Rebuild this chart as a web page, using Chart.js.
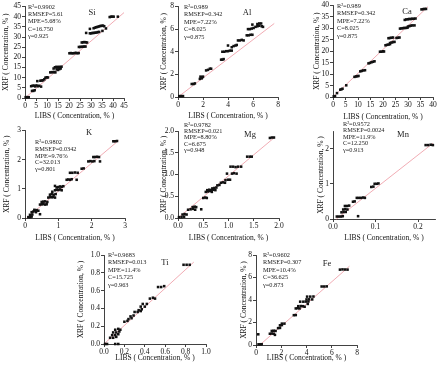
<!DOCTYPE html>
<html>
<head>
<meta charset="utf-8">
<script src="https://cdn.jsdelivr.net/npm/chart.js@4.4.1/dist/chart.umd.min.js"></script>
<style>
  html, body { margin: 0; padding: 0; background: #fff; }
  #wrap { position: relative; width: 442px; height: 369px; overflow: hidden; }
  .panel { position: absolute; }
</style>
</head>
<body>
<div id="wrap"></div>
<script>
// tick values per subplot
const siTicks = [0, 5, 10, 15, 20, 25, 30, 35, 40, 45];
const alTicks = [0, 2, 4, 6, 8];
const caTicks = [0, 5, 10, 15, 20, 25, 30, 35, 40];
const kTicks = [0, 1, 2, 3];
const mgTicks = [0, 0.5, 1.0, 1.5, 2.0];
const mnTicksX = [0, 0.1, 0.2];
const mnTicksY = [0, 1, 2];
const tiTicks = [0, 0.2, 0.4, 0.6, 0.8, 1.0];
const feTicks = [0, 2, 4, 6, 8];

// [LIBS, XRF] pairs
const siPoints = [[0.3,0.4],[1,0.4],[1.7,0.4],
  [3.2,3.5],[3.8,3.5],[4.4,3.8],
  [2.8,5.8],[3.4,6],[4,6.1],[4.6,5.7],[5.2,6.2],[5.8,5.8],[6.4,6],[7.3,5.6],[5.6,8.3],
  [7,8.5],[7.6,8.6],[8.2,8.7],[8.8,9.2],[9.3,10],[9.9,10.2],[10.4,10.1],
  [11.5,12.6],[12.1,12.7],[12.7,12.7],[13.3,12.8],[13.8,12.6],
  [13,14.5],[13.6,15.1],[14.2,15.3],[14.8,15.2],[15.4,15.3],[16,15.2],[16.6,15.4],[14.4,14.1],[15,13.8],[15.6,14.2],[16.2,14.5],
  [20.2,22],[20.8,22.1],[21.4,22],[22,22],[22.6,22.1],[23.2,22.2],[23.8,22],[24.4,22.1],
  [24.5,25.1],[25.1,25.1],[25.7,25.2],[26.3,25.2],[26.9,25.3],[27.5,25.3],
  [25.8,27.3],[26.4,27.4],[27,27.5],[27.6,27.4],[28.2,27.3],
  [27.8,32],
  [29.5,31.8],[30.1,31.8],[30.7,32],[31.3,32],[31.9,32.1],[32.5,32.2],[33.1,32.4],[33.7,32.5],
  [29.5,34],[31.2,34.3],[31.8,34.6],[32.4,34.8],[33,35],[33.6,35.2],[34.2,35.4],[34.8,35.5],[35.4,35.6],[36,35.3],
  [35.2,33],[36.8,34.2],
  [38.5,39.8],[39.1,40],[39.7,40],[40.3,40],[42.2,40]];
const alPoints = [[0.1,0.08],[0.25,0.08],[0.4,0.08],
  [1.1,1.15],[1.25,1.15],[1.35,1.2],
  [1.75,1.6],[1.85,1.7],[1.95,1.75],[1.8,1.8],[1.9,1.65],[2.0,1.8],
  [2.25,2.35],[2.4,2.4],[2.55,2.5],[2.65,2.5],
  [3.45,3.3],[3.55,3.3],[3.65,3.35],
  [3.55,4.0],[3.7,4.0],[3.85,4.05],[4.0,4.05],[4.15,4.1],[4.3,4.1],
  [4.0,4.55],[4.3,4.4],[4.45,4.5],[4.6,4.55],[4.7,4.6],
  [4.8,5.0],[4.95,5.0],[5.1,5.05],[5.25,5.0],
  [5.5,5.45],[5.65,5.45],[5.8,5.5],[5.95,5.5],
  [5.6,6.0],[5.75,6.0],[5.9,6.05],[6.05,6.1],
  [6.2,6.2],[6.35,6.25],[6.5,6.3],[6.7,6.25],[6.8,6.2],
  [5.95,6.4],[6.35,6.45],[6.5,6.5],[6.65,6.5]];
const caPoints = [[0.3,0.3],[0.8,0.4],
  [1.6,1.7],[2.9,3.2],[3.4,3.4],[3.8,3.6],
  [5.3,5.1],
  [8.6,8.8],[9.2,9],[9.7,9.1],[10.2,9.2],
  [10.9,11.2],[11.5,11.4],[12.1,11.6],[12.8,11.7],
  [14.2,14.7],[14.8,14.9],[15.4,15.2],[16,15.4],[16.6,15.6],
  [18.8,19.8],[19.4,19.8],[20,20],[20.4,19.9],
  [21,22.6],[21.6,22.8],[22.2,22.9],[22.8,23.1],
  [22.8,23.6],[23.4,23.8],[24,24],[24.6,24.1],
  [22.2,25.7],[22.8,25.8],[23.4,25.9],[24,26],
  [25.4,25.8],[26,25.9],[26.6,26],
  [26.8,29.9],[27.4,30],[28,30.1],[28.6,30.2],[29.2,30.2],[29.8,30.3],
  [30,30.8],[30.6,31],[31.2,31.2],[31.8,31.3],[32.6,31.3],
  [28.7,33.7],[29.3,33.9],[29.9,34],[30.5,34.1],[31.1,34.1],[31.7,34.2],[32.3,34.2],[33,34.3],
  [35.4,38.3],[36,38.4],[36.6,38.5],[37.2,38.5]];
const kPoints = [[0.1,0.03],[0.16,0.03],[0.2,0.05],
  [0.15,0.11],[0.22,0.12],
  [0.2,0.2],[0.25,0.22],[0.3,0.26],[0.35,0.27],[0.4,0.25],[0.28,0.28],[0.33,0.2],
  [0.45,0.13],
  [0.45,0.46],[0.5,0.47],[0.55,0.48],[0.6,0.46],[0.65,0.47],
  [0.5,0.55],[0.55,0.56],[0.6,0.57],[0.67,0.55],
  [0.7,0.7],[0.75,0.72],[0.8,0.71],[0.85,0.72],[0.9,0.7],
  [0.75,0.8],[0.8,0.82],[0.86,0.8],[0.92,0.82],
  [0.82,0.9],
  [0.9,0.95],[0.95,0.97],[1.0,0.96],[1.05,0.98],[1.1,0.95],
  [1.0,1.06],[1.05,1.08],[1.1,1.07],[1.15,1.09],[0.9,1.1],[0.95,1.05],
  [1.25,1.31],[1.3,1.32],[1.35,1.31],[1.4,1.33],
  [1.35,1.55],[1.42,1.55],[1.5,1.56],[1.58,1.55],
  [1.55,1.31],
  [1.7,1.69],[1.76,1.7],
  [1.9,1.94],[1.96,1.95],[2.02,1.94],[2.08,1.95],
  [2.05,2.09],[2.1,2.09],[2.16,2.1],[2.22,2.09],
  [2.25,1.94],
  [2.65,2.63],[2.7,2.63],[2.76,2.64]];
const mgPoints = [[0.02,0.02],[0.07,0.02],[0.12,0.03],
  [0.09,0.08],[0.13,0.09],[0.17,0.08],
  [0.2,0.19],[0.25,0.2],[0.3,0.21],[0.34,0.19],
  [0.29,0.25],[0.33,0.26],[0.36,0.25],
  [0.46,0.2],
  [0.5,0.46],[0.54,0.47],[0.57,0.46],
  [0.55,0.6],[0.59,0.61],[0.63,0.62],[0.67,0.6],
  [0.58,0.64],[0.62,0.65],[0.66,0.64],[0.7,0.65],[0.74,0.64],
  [0.68,0.68],[0.72,0.69],[0.76,0.7],
  [0.78,0.75],[0.82,0.76],
  [0.85,0.81],[0.89,0.82],[0.93,0.81],
  [0.94,0.87],[0.99,0.88],
  [0.97,1.02],
  [1.03,0.88],
  [1.07,1.02],[1.11,1.03],[1.16,1.02],
  [1.04,1.18],[1.09,1.18],
  [1.14,1.17],[1.19,1.18],[1.25,1.18],
  [1.37,1.41],[1.42,1.41],[1.46,1.41],
  [1.82,1.84],[1.86,1.85],[1.9,1.85]];
const mnPoints = [[0.009,0.07],[0.014,0.07],[0.019,0.07],[0.023,0.08],
  [0.02,0.19],[0.025,0.2],[0.03,0.2],
  [0.024,0.27],[0.029,0.28],[0.034,0.27],
  [0.028,0.37],[0.033,0.37],[0.038,0.38],
  [0.047,0.49],[0.051,0.5],
  [0.056,0.6],[0.061,0.6],[0.066,0.6],[0.071,0.61],[0.075,0.6],
  [0.059,0.08],
  [0.09,0.91],[0.095,0.92],
  [0.098,1.0],[0.103,1.0],[0.107,1.01],
  [0.218,2.1],[0.224,2.1],[0.23,2.11],[0.235,2.1]];
const tiPoints = [[0.01,0],[0.03,0],
  [0.11,0],[0.14,0],
  [0.06,0.07],[0.09,0.07],[0.12,0.08],
  [0.08,0.1],[0.11,0.1],[0.14,0.11],
  [0.09,0.13],[0.12,0.13],[0.15,0.14],
  [0.11,0.16],[0.14,0.17],[0.16,0.16],
  [0.2,0.25],[0.23,0.26],
  [0.24,0.28],[0.27,0.29],
  [0.26,0.31],[0.29,0.32],
  [0.3,0.36],[0.33,0.36],[0.36,0.37],
  [0.34,0.38],[0.37,0.39],
  [0.36,0.42],[0.4,0.42],
  [0.38,0.45],[0.42,0.45],
  [0.45,0.51],[0.48,0.52],[0.5,0.51],
  [0.53,0.64],[0.56,0.64],[0.59,0.65],
  [0.78,0.89],[0.81,0.89],[0.84,0.89]];
const fePoints = [[0.18,0.95],
  [0.2,0.06],[0.35,0.06],[0.45,0.07],
  [1.1,1.0],[1.25,1.02],[1.4,1.0],
  [1.25,1.25],[1.4,1.27],[1.55,1.25],
  [1.5,0.9],
  [1.75,1.5],[1.9,1.52],
  [1.9,1.75],[2.05,1.77],
  [2.05,1.9],[2.25,1.9],
  [3.0,2.65],[3.15,2.66],
  [3.15,3.25],[3.3,3.27],[3.45,3.25],
  [3.35,3.45],[3.55,3.46],[3.7,3.45],
  [3.5,3.85],
  [3.75,3.85],[3.95,3.86],[4.15,3.87],
  [4.0,4.05],[4.2,4.06],[4.45,4.05],
  [4.05,4.3],[4.3,4.3],[4.55,4.31],
  [3.85,3.4],[4.1,3.65],
  [5.2,5.2],[5.4,5.2],[5.6,5.21],
  [6.65,6.7],[6.85,6.72],[7.05,6.71],[7.25,6.7]];

// regression line end points
const siFit = [[0, 0], [45, 42]];
const alFit = [[0, 0], [7.7, 6.5]];
const caFit = [[0, 0], [38, 39.5]];
const kFit = [[0.05, 0], [2.8, 2.65]];
const mgFit = [[0, 0], [1.92, 1.86]];
const mnFit = [[0.008, 0], [0.235, 2.15]];
const tiFit = [[0, 0], [0.88, 0.92]];
const feFit = [[0.3, 0], [7.4, 7.0]];

// statistics text
const siStats = ['R\u00b2=0.9902', 'RMSEP=5.61', 'MPE=5.68%', 'C=16.750', '\u03b3=0.925'];
const alStats = ['R\u00b2=0.989', 'RMSEP=0.342', 'MPE=7.22%', 'C=8.025', '\u03b3=0.875'];
const caStats = ['R\u00b2=0.989', 'RMSEP=0.342', 'MPE=7.22%', 'C=8.025', '\u03b3=0.875'];
const kStats = ['R\u00b2=0.9802', 'RMSEP=0.0342', 'MPE=9.76%', 'C=32.013', '\u03b3=0.801'];
const mgStats = ['R\u00b2=0.9782', 'RMSEP=0.021', 'MPE=8.80%', 'C=6.675', '\u03b3=0.948'];
const mnStats = ['R\u00b2=0.9572', 'RMSEP=0.0024', 'MPE=11.9%', 'C=12.250', '\u03b3=0.913'];
const tiStats = ['R\u00b2=0.9683', 'RMSEP=0.013', 'MPE=11.4%', 'C=15.725', '\u03b3=0.963'];
const feStats = ['R\u00b2=0.9602', 'RMSEP=0.307', 'MPE=10.4%', 'C=36.625', '\u03b3=0.873'];

const xTitle = 'LIBS ( Concentration, % )';
const yTitle = 'XRF ( Concentration, % )';

// layout: box = [left, right, top, bottom] of the plot area in page pixels
const panels = [
  { name: 'Si', pts: siPoints, fit: siFit, stats: siStats, xt: siTicks, yt: siTicks, xmax: 45, ymax: 45, xdec: 0, ydec: 0,
    box: [25, 124, 6, 98], yTitleX: 7, xTitleY: 116, txt: [28, 6.7, 7.3], lab: [92, 12] },
  { name: 'Al', pts: alPoints, fit: alFit, stats: alStats, xt: alTicks, yt: alTicks, xmax: 8, ymax: 8, xdec: 0, ydec: 0,
    box: [178, 278, 6, 97], yTitleX: 165, xTitleY: 116, txt: [184, 6.7, 7.5], lab: [247, 12] },
  { name: 'Ca', pts: caPoints, fit: caFit, stats: caStats, xt: caTicks, yt: caTicks, xmax: 40, ymax: 40, xdec: 0, ydec: 0,
    box: [333, 433, 5, 97], yTitleX: 318, xTitleY: 117, txt: [337, 6, 7.5], lab: [407, 12] },
  { name: 'K', pts: kPoints, fit: kFit, stats: kStats, xt: kTicks, yt: kTicks, xmax: 3, ymax: 3, xdec: 0, ydec: 0,
    box: [25, 125, 130, 218], yTitleX: 8, xTitleY: 238, txt: [35, 142.3, 6.8], lab: [89, 133] },
  { name: 'Mg', pts: mgPoints, fit: mgFit, stats: mgStats, xt: mgTicks, yt: mgTicks, xmax: 2, ymax: 2, xdec: 1, ydec: 1,
    box: [178, 279, 131, 218], yTitleX: 165, xTitleY: 238, txt: [184, 125, 6.4], lab: [250, 135] },
  { name: 'Mn', pts: mnPoints, fit: mnFit, stats: mnStats, xt: mnTicksX, yt: mnTicksY, xmax: 0.24, ymax: 2.5, xdec: 1, ydec: 0,
    box: [333, 435, 131, 219], yTitleX: 322, xTitleY: 238, txt: [343, 124, 6.5], lab: [403, 135] },
  { name: 'Ti', pts: tiPoints, fit: tiFit, stats: tiStats, xt: tiTicks, yt: tiTicks, xmax: 1, ymax: 1, xdec: 1, ydec: 1,
    box: [104, 206, 255, 344], yTitleX: 82, xTitleY: 358, txt: [108, 255, 7.6], lab: [165, 263] },
  { name: 'Fe', pts: fePoints, fit: feFit, stats: feStats, xt: feTicks, yt: feTicks, xmax: 8, ymax: 8, xdec: 0, ydec: 0,
    box: [256, 357, 255, 345], yTitleX: 245, xTitleY: 358, txt: [263, 255, 7.6], lab: [327, 264] }
];

const serif = 'Liberation Serif';
const wrap = document.getElementById('wrap');

function axis(ticks, max, dec, title, fit) {
  return {
    type: 'linear',
    min: 0,
    max: max,
    afterBuildTicks: a => { a.ticks = ticks.map(v => ({ value: v })); },
    afterFit: fit,
    ticks: {
      autoSkip: false, maxRotation: 0, minRotation: 0, padding: 1, color: '#111',
      font: { family: serif, size: 7.5 },
      callback: v => Number(v).toFixed(dec)
    },
    grid: { display: true, drawOnChartArea: false, drawTicks: true, tickLength: 3, color: '#111', lineWidth: 0.8 },
    border: { display: true, color: '#111', width: 0.8 },
    title: { display: true, text: title, color: '#111', padding: 0, font: { family: serif, size: 7.5 } }
  };
}

panels.forEach(p => {
  const [l, r, t, b] = p.box;
  const ox = p.yTitleX - 5;
  const oy = Math.min(t - 5, p.txt[1] - 6);
  const w = r + 8 - ox, h = p.xTitleY + 5 - oy;

  const div = document.createElement('div');
  div.className = 'panel';
  div.style.left = ox + 'px';
  div.style.top = oy + 'px';
  const cv = document.createElement('canvas');
  cv.width = w; cv.height = h;
  cv.style.width = w + 'px'; cv.style.height = h + 'px';
  div.appendChild(cv);
  wrap.appendChild(div);

  const statsText = {
    id: 'statsText',
    afterDraw(chart) {
      const ctx = chart.ctx;
      ctx.save();
      ctx.fillStyle = '#222';
      ctx.textBaseline = 'middle';
      ctx.textAlign = 'left';
      ctx.font = '6.3px "' + serif + '"';
      p.stats.forEach((s, i) => ctx.fillText(s, p.txt[0] - ox, p.txt[1] - oy + i * p.txt[2]));
      ctx.font = '8.5px "' + serif + '"';
      ctx.textAlign = 'center';
      ctx.fillText(p.name, p.lab[0] - ox, p.lab[1] - oy);
      ctx.restore();
    }
  };

  new Chart(cv, {
    type: 'scatter',
    data: {
      datasets: [
        {
          data: p.pts.map(q => ({ x: q[0], y: q[1] })),
          pointStyle: 'rect',
          pointRadius: 1.8,
          pointBorderWidth: 0,
          backgroundColor: '#111',
          borderWidth: 0,
          clip: false,
          order: 1
        },
        {
          data: p.fit.map(q => ({ x: q[0], y: q[1] })),
          showLine: true,
          borderColor: 'rgba(236,140,150,0.9)',
          borderWidth: 0.8,
          pointRadius: 0,
          clip: false,
          order: 2
        }
      ]
    },
    options: {
      responsive: false,
      animation: false,
      devicePixelRatio: 1,
      layout: { padding: { top: t - oy, right: 8, left: 0, bottom: 0 } },
      plugins: { legend: { display: false }, tooltip: { enabled: false } },
      scales: {
        x: axis(p.xt, p.xmax, p.xdec, xTitle, s => { s.height = h - (b - oy); }),
        y: axis(p.yt, p.ymax, p.ydec, yTitle, s => { s.width = l - ox; })
      }
    },
    plugins: [statsText]
  });
});
</script>
</body>
</html>
